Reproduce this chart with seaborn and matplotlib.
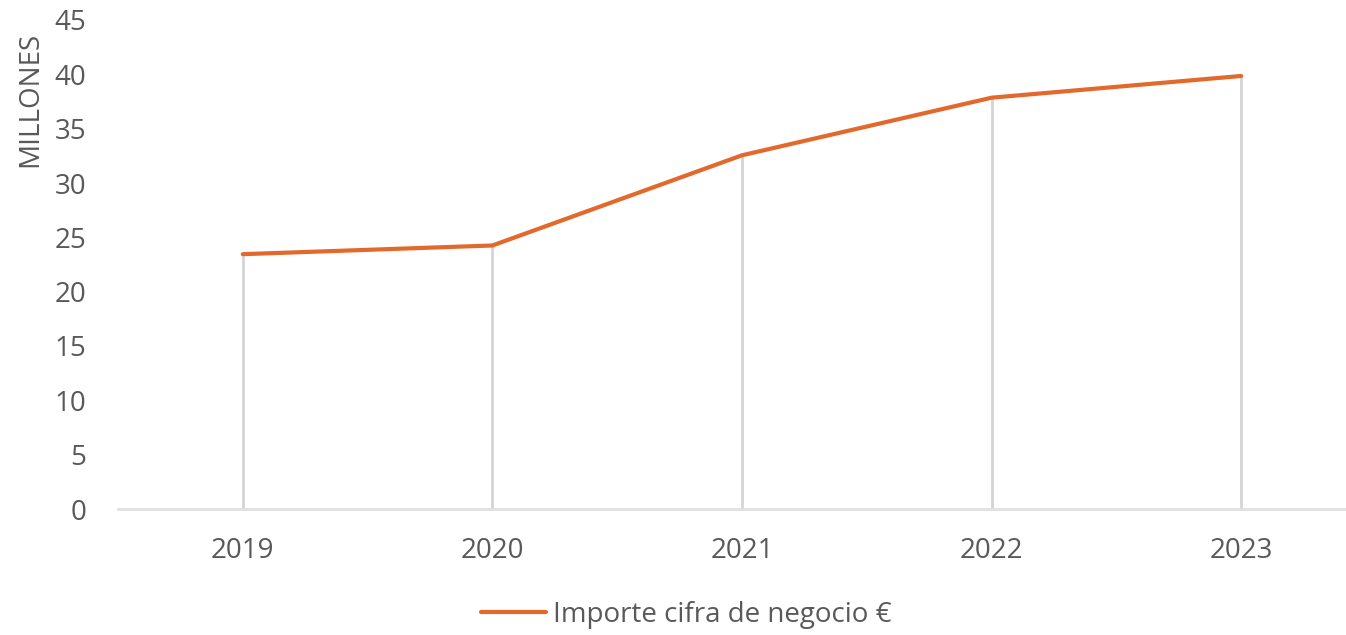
import matplotlib
matplotlib.use("Agg")
import matplotlib.pyplot as plt
import seaborn as sns
import pandas as pd

years = ["2019", "2020", "2021", "2022", "2023"]
values = [23.45, 24.25, 32.55, 37.85, 39.85]
series_name = "Importe cifra de negocio €"
y_ticks = [0, 5, 10, 15, 20, 25, 30, 35, 40, 45]
y_label = "MILLONES"

sns.set_theme(style="white")
plt.rcParams["font.family"] = ["Open Sans", "DejaVu Sans"]

TEXT = "#595959"
ORANGE = "#E2692B"
GRID = "#D4D4D4"
FS = 20

df = pd.DataFrame({"x": list(range(len(years))), "y": values, "s": series_name})

fig = plt.figure(figsize=(13.46, 6.35), dpi=100)
ax = fig.add_axes([118 / 1346, 1 - 509 / 635, (1366 - 118) / 1346, (509 - 20) / 635])

ax.vlines(df["x"], 0, df["y"], colors=GRID, linewidth=2, zorder=1)
sns.lineplot(data=df, x="x", y="y", hue="s", palette=[ORANGE], linewidth=3,
             ax=ax, zorder=3, legend=True)

ax.set_xlim(-0.5, len(years) - 0.5)
ax.set_ylim(0, 45)
ax.set_xticks(range(len(years)))
ax.set_xticklabels(years)
ax.set_yticks(y_ticks)
ax.set_yticklabels([str(t) for t in y_ticks])
ax.tick_params(axis="both", length=0, labelsize=FS, colors=TEXT)
ax.tick_params(axis="y", pad=23)
ax.tick_params(axis="x", pad=20)
ax.set_xlabel("")
ax.set_ylabel("")
for side in ["top", "right", "left"]:
    ax.spines[side].set_visible(False)
ax.spines["bottom"].set_color("#E0E0E0")
ax.spines["bottom"].set_linewidth(2)

fig.text(30 / 1346, 1 - 99 / 635, y_label, rotation=90, ha="center", va="center",
         fontsize=FS, color=TEXT)

handles, labels = ax.get_legend_handles_labels()
ax.get_legend().remove()
fig.legend(handles, labels, loc="center", bbox_to_anchor=(686 / 1346, 1 - 615 / 635),
           frameon=False, fontsize=FS, labelcolor=TEXT, handlelength=2.35,
           handletextpad=0.25)

fig.savefig("out.png", dpi=100)
